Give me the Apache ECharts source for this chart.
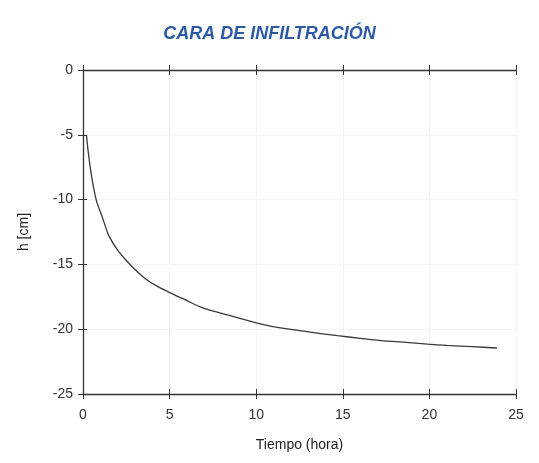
<!DOCTYPE html>
<html>
<head>
<meta charset="utf-8">
<title>Cara de infiltración</title>
<script src="https://cdn.jsdelivr.net/npm/echarts@6/dist/echarts.min.js"></script>
<style>
    html, body { margin: 0; padding: 0; background: #fff; }
    #chart { width: 539px; height: 463px; }
</style>
</head>
<body>
<div id="chart"></div>
<script>
// datos
const tiempo = [0.2, 0.3, 0.45, 0.6, 0.8, 1.1, 1.5, 2.0, 2.5, 3.0, 3.6, 4.3, 5.2, 6.0, 7.0, 8.5, 10.3, 11.4, 13.0, 14.7, 16.0, 17.4, 18.5, 19.9, 21.0, 22.5, 23.9];
const carga = [-5.0, -6.3, -7.8, -9.0, -10.2, -11.3, -12.8, -13.9, -14.7, -15.4, -16.1, -16.7, -17.3, -17.8, -18.4, -18.95, -19.6, -19.9, -20.2, -20.5, -20.7, -20.9, -21.0, -21.15, -21.25, -21.35, -21.45];

const fuente = 'Liberation Sans, Arial, sans-serif';
const colorEje = '#333';

// eje x auxiliar (solo marcas, para que crucen la línea)
function ejeMarcas(posicion, dentro) {
    return {
        type: 'value',
        position: posicion,
        min: 0,
        max: 25,
        interval: 5,
        axisLine: { show: posicion === 'top' && !dentro, onZero: false, lineStyle: { color: colorEje, width: 1.3 } },
        axisTick: { show: true, inside: dentro, length: 5, lineStyle: { color: colorEje } },
        axisLabel: { show: false },
        splitLine: { show: false }
    };
}

function cargarGrafica() {
    const chart = echarts.init(document.getElementById('chart'));

    const option = {
        animation: false,
        title: {
            text: 'CARA DE INFILTRACIÓN',
            left: 'center',
            top: 20,
            textStyle: {
                fontFamily: fuente,
                fontSize: 18,
                fontWeight: 'bold',
                fontStyle: 'italic',
                color: '#2c5aa6'
            }
        },
        grid: { left: 83, right: 23, top: 70, bottom: 69 },
        xAxis: [
            {
                type: 'value',
                position: 'bottom',
                min: 0,
                max: 25,
                interval: 5,
                name: 'Tiempo (hora)',
                nameLocation: 'middle',
                nameGap: 44,
                nameTextStyle: { fontFamily: fuente, fontSize: 14, color: '#222' },
                axisLine: { show: true, onZero: false, lineStyle: { color: colorEje, width: 1.3 } },
                axisTick: { show: true, length: 5, lineStyle: { color: colorEje } },
                axisLabel: { fontFamily: fuente, fontSize: 14, color: '#333', margin: 14 },
                splitLine: { show: true, lineStyle: { color: '#ebebeb', type: 'dotted' } }
            },
            ejeMarcas('bottom', true),
            ejeMarcas('top', false),
            ejeMarcas('top', true)
        ],
        yAxis: [
            {
                type: 'value',
                min: -25,
                max: 0,
                interval: 5,
                name: 'h [cm]',
                nameLocation: 'middle',
                nameGap: 52,
                nameTextStyle: { fontFamily: fuente, fontSize: 14, color: '#222' },
                axisLine: { show: true, onZero: false, lineStyle: { color: colorEje, width: 1.3 } },
                axisTick: { show: true, length: 5, lineStyle: { color: colorEje } },
                axisLabel: { fontFamily: fuente, fontSize: 14, color: '#333', margin: 10 },
                splitLine: { show: true, lineStyle: { color: '#ebebeb', type: 'dotted' } }
            },
            {
                type: 'value',
                position: 'left',
                min: -25,
                max: 0,
                interval: 5,
                axisLine: { show: false, onZero: false },
                axisTick: { show: true, inside: true, length: 4, lineStyle: { color: colorEje } },
                axisLabel: { show: false },
                splitLine: { show: false }
            }
        ],
        series: [{
            type: 'line',
            data: tiempo.map((t, i) => [t, carga[i]]),
            smooth: 0.3,
            showSymbol: false,
            lineStyle: { color: '#3a3a3a', width: 1.3 }
        }]
    };

    chart.setOption(option);
}

cargarGrafica();
</script>
</body>
</html>
